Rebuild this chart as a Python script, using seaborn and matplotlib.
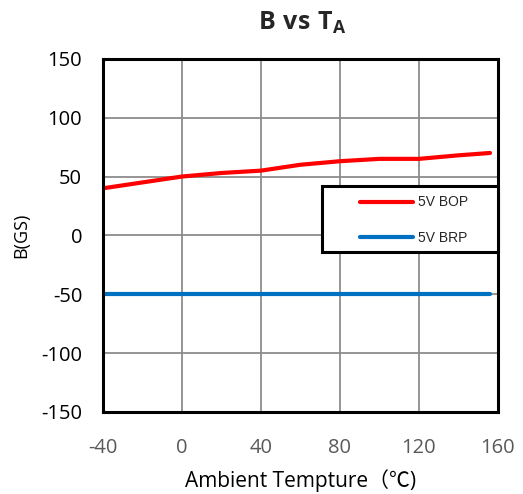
import matplotlib
matplotlib.use("Agg")
import matplotlib.pyplot as plt
import seaborn as sns
import pandas as pd
from matplotlib.lines import Line2D
from matplotlib.patches import Rectangle

temps_bop = [-40, -20, 0, 20, 40, 60, 80, 100, 120, 140, 156]
bop = [40, 45, 50, 53, 55, 60, 63, 65, 65, 68, 70]
temps_brp = [-40, 0, 40, 80, 120, 156]
brp = [-50, -50, -50, -50, -50, -50]
xticks = [-40, 0, 40, 80, 120, 160]
yticks = [-150, -100, -50, 0, 50, 100, 150]

sns.set_style("white")
plt.rcParams['font.family'] = ['Open Sans', 'DejaVu Sans']
plt.rcParams['mathtext.fontset'] = 'custom'
plt.rcParams['mathtext.bf'] = 'Open Sans:bold'
plt.rcParams['mathtext.rm'] = 'Open Sans'

fig = plt.figure(figsize=(5.23, 4.94), dpi=100)
ax = fig.add_axes([0.197, 0.166, 0.755, 0.715])

df = pd.concat([
    pd.DataFrame({"T": temps_bop, "B": bop, "s": "5V BOP"}),
    pd.DataFrame({"T": temps_brp, "B": brp, "s": "5V BRP"}),
])
sns.lineplot(data=df, x="T", y="B", hue="s", palette={"5V BOP": "#ff0000", "5V BRP": "#0070c0"},
             linewidth=3, ax=ax, legend=False)

ax.set_xlim(-40, 160)
ax.set_ylim(-150, 150)
ax.set_xticks(xticks)
ax.set_yticks(yticks)
ax.set_xticklabels([str(v) for v in xticks], fontsize=14.5, color="#595959")
ax.set_yticklabels([str(v) for v in yticks], fontsize=14.5, color="#000000")
ax.tick_params(axis="y", length=0, pad=15)
ax.tick_params(axis="x", length=0, pad=19)
ax.grid(True, color="#8c8c8c", linewidth=1.3)
for sp in ax.spines.values():
    sp.set_color("black")
    sp.set_linewidth(2.2)
ax.set_xlabel("Ambient Tempture（℃)", fontsize=15, color="#000000", labelpad=8,
              family=['Open Sans', 'Noto Sans CJK SC', 'DejaVu Sans'])
ax.set_ylabel("B(GS)", fontsize=13, color="#000000", labelpad=8)
fig.text(0.577, 0.953, r"$\mathbf{B\ vs\ T_A}$", ha="center", va="center", fontsize=18)

rect = Rectangle((0.554, 0.453), 0.446, 0.187, transform=ax.transAxes,
                 facecolor="white", edgecolor="black", linewidth=2.2, zorder=4, clip_on=False)
ax.add_patch(rect)

handles = [Line2D([], [], color="#ff0000", linewidth=3), Line2D([], [], color="#0070c0", linewidth=3)]
leg = ax.legend(handles, ["5V BOP", "5V BRP"], loc="center left", bbox_to_anchor=(0.651, 0.543),
                frameon=False,
                prop={'family': ['Liberation Sans Narrow', 'Liberation Sans'], 'size': 10},
                handlelength=3.8, borderpad=0, labelspacing=1.55, handletextpad=0.35,
                borderaxespad=0)
leg.set_zorder(5)

fig.savefig("out.png", dpi=100)
